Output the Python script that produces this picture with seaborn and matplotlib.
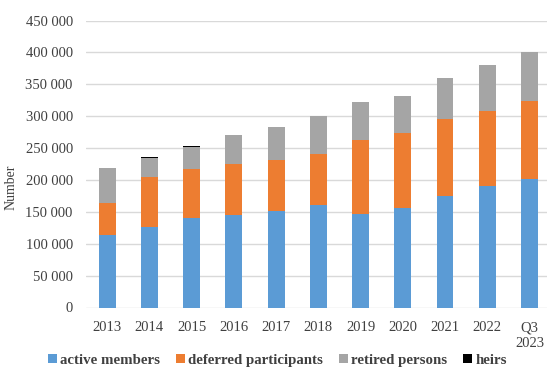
import numpy as np
import pandas as pd
import matplotlib
matplotlib.use("Agg")
import matplotlib.pyplot as plt
import seaborn as sns
from matplotlib.patches import Patch

years = ["2013", "2014", "2015", "2016", "2017", "2018", "2019", "2020",
         "2021", "2022", "Q3\n2023"]
active_members = [113000, 127000, 140000, 145000, 152000, 160000, 147000,
                  156000, 175000, 190000, 202000]
deferred_participants = [51000, 78000, 77000, 80000, 80000, 81000, 116000,
                         118000, 120000, 118000, 121000]
retired_persons = [54000, 29000, 35000, 45000, 51000, 59000, 59000,
                   58000, 65000, 72000, 78000]
heirs = [0, 2000, 2000, 0, 0, 0, 0, 0, 0, 0, 0]

series_names = ["active members", "deferred participants", "retired persons", "heirs"]
colors = ["#5B9BD5", "#ED7D31", "#A5A5A5", "#000000"]

df = pd.DataFrame({
    "year": years,
    "active members": active_members,
    "deferred participants": deferred_participants,
    "retired persons": retired_persons,
    "heirs": heirs,
})
# cumulative tops for the stacked bars
cum = df[series_names].cumsum(axis=1)
cum["year"] = df["year"]

sns.set_style("white")
plt.rcParams["font.family"] = ["Liberation Serif", "DejaVu Serif"]

fig = plt.figure(figsize=(5.47, 3.69), dpi=100)
ax = fig.add_axes([86 / 547, (369 - 307.5) / 369, (550.6 - 86) / 547, 287 / 369])

# draw from the tallest layer down so each segment shows its own slice
for name, col in reversed(list(zip(series_names, colors))):
    sns.barplot(data=cum, x="year", y=name, order=years, color=col,
                width=0.4, ax=ax, saturation=1, linewidth=0, zorder=3)

ax.set_ylim(0, 450000)
ax.set_xlim(-0.5, 10.5)
ticks = np.arange(0, 450001, 50000)
ax.set_yticks(ticks)
ax.set_yticklabels(["0" if t == 0 else f"{t // 1000} 000" for t in ticks])
ax.yaxis.grid(True, color="#d9d9d9", linewidth=1.0, zorder=0)
ax.xaxis.grid(False)
for s in ax.spines.values():
    s.set_visible(False)
ax.tick_params(axis="both", length=0, labelsize=10.5, colors="#404040")
ax.tick_params(axis="y", pad=9.5)
ax.tick_params(axis="x", pad=10)
for lbl in ax.get_xticklabels():
    lbl.set_linespacing(1.25)
ax.set_xlabel("")
ax.set_ylabel("Number", fontsize=10, color="#404040")
ax.yaxis.set_label_coords(-0.148, 0.42)

handles = [Patch(facecolor=c, edgecolor="none") for c in colors]
leg = fig.legend(handles, series_names, loc="center", ncol=4,
                 bbox_to_anchor=(0.507, 0.024), frameon=False,
                 handlelength=0.6, handleheight=0.6, handletextpad=0.2,
                 columnspacing=1.1,
                 prop={"family": "Liberation Serif", "weight": "bold", "size": 10.7})
for t in leg.get_texts():
    t.set_color("#404040")

fig.savefig("out.png", dpi=100)
